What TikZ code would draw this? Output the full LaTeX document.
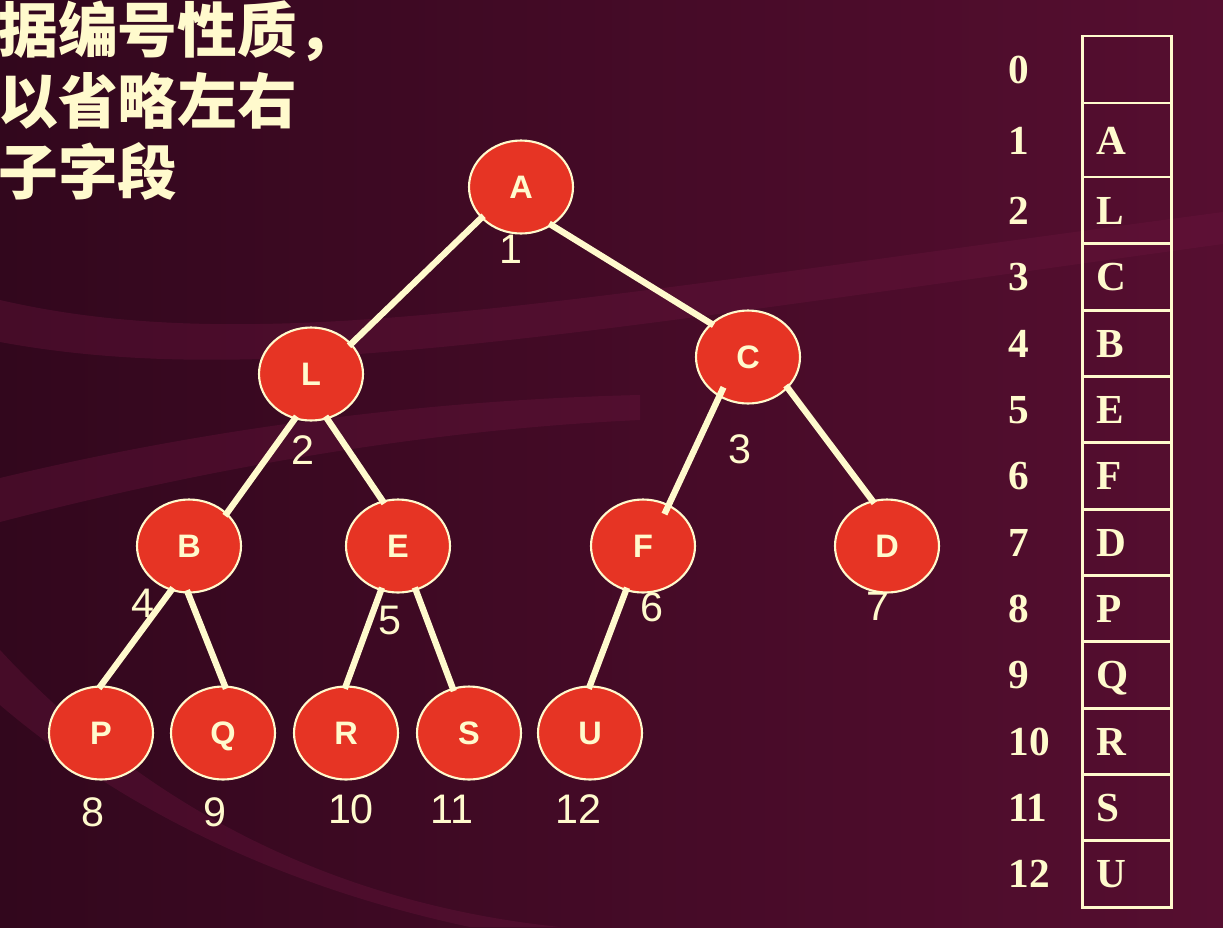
\documentclass[tikz,border=0pt]{standalone}
\usepackage{fontspec}
\setmainfont{Liberation Serif}
\setsansfont{Liberation Sans}
\newfontfamily\cjkFont{Noto Sans CJK SC}
\usepackage{tikz}
\usetikzlibrary{positioning, shapes.geometric}
\tikzstyle{slide} = [x = .02cm, y = -.02cm]
\definecolor{bgLeft}{RGB}{50,7,29}
\definecolor{bgRight}{RGB}{86,14,48}
\definecolor{bandColor}{RGB}{108,22,63}
\definecolor{nodeRed}{RGB}{230,52,36}
\definecolor{creamColor}{RGB}{255,250,205}
\tikzstyle{bandStyle} = [fill=bandColor, opacity=0.35]
\tikzstyle{treeNodeStyle} = [ellipse, draw=creamColor, line width=1.2pt, fill=nodeRed, minimum width=2.08cm, minimum height=1.86cm, inner sep=0pt, text height=13.2pt, text depth=0pt, text=creamColor, font=\sffamily\bfseries\fontsize{18.5}{18.5}\selectfont]
\tikzstyle{treeEdge} = [draw=creamColor, line width=3.6pt]
\tikzstyle{numberStyle} = [text=creamColor, inner sep=0pt, font=\sffamily\fontsize{23.5}{23.5}\selectfont]
\tikzstyle{tableLine} = [draw=creamColor, line width=1.7pt]
\tikzstyle{tableText} = [text=creamColor, inner sep=0pt, anchor=base west, font=\rmfamily\bfseries\fontsize{23.5}{23.5}\selectfont]
\tikzstyle{titleText} = [text=creamColor, inner sep=0pt, anchor=base west, font=\cjkFont\bfseries\fontsize{34}{34}\selectfont]
\newcommand{\treeNode}[3]{\node [treeNodeStyle] (#1) at (#2,#3) {#1};}
\newcommand{\numberLabel}[3]{\node [numberStyle] (number#1) at (#2,#3) {#1};}
\newcommand{\tableRow}[4]{
  \pgfmathsetmacro{\rowBase}{(#2 + #3) / 2 + 14}
  \draw [tableLine] (1082,#3) -- (1171,#3);
  \node [tableText] (index#1) at (1008,\rowBase) {#1};
  \node [tableText] (entry#1) at (1096,\rowBase) {#4};
}
\begin{document}
\begin{tikzpicture}[slide]
  \useasboundingbox (0,0) rectangle (1223,927);
  \shade [left color=bgLeft, right color=bgRight] (0,0) rectangle (1223,927);
  % background swooshes
  \fill [bandStyle] (0,300) .. controls (260,360) and (560,300) .. (1223,212)
    -- (1223,244) .. controls (560,335) and (260,390) .. (0,342) -- cycle;
  \fill [bandStyle] (0,478) .. controls (200,430) and (420,400) .. (640,395)
    -- (640,420) .. controls (420,430) and (200,470) .. (0,522) -- cycle;
  \fill [bandStyle] (0,650) .. controls (120,780) and (300,900) .. (560,927)
    -- (470,927) .. controls (250,880) and (100,790) .. (0,705) -- cycle;

  % title
  \node [titleText] (titleOne) at (-2,52) {据编号性质，};
  \node [titleText] (titleTwo) at (-2,123) {以省略左右};
  \node [titleText] (titleThree) at (-2,194) {子字段};

  % numbers under the nodes
  \numberLabel{1}{511}{249}
  \numberLabel{2}{303}{450}
  \numberLabel{3}{740}{449}
  \numberLabel{4}{143}{603}
  \numberLabel{5}{390}{620}
  \numberLabel{6}{652}{607}
  \numberLabel{7}{878}{606}
  \numberLabel{8}{93}{812}
  \numberLabel{9}{215}{812}
  \numberLabel{10}{351}{809}
  \numberLabel{11}{452}{809}
  \numberLabel{12}{578}{809}

  % tree
  \treeNode{A}{521}{187}
  \treeNode{L}{311}{374}
  \treeNode{C}{748}{357}
  \treeNode{B}{189}{546}
  \treeNode{E}{398}{546}
  \treeNode{F}{643}{546}
  \treeNode{D}{887}{546}
  \treeNode{P}{101}{733}
  \treeNode{Q}{223}{733}
  \treeNode{R}{346}{733}
  \treeNode{S}{469}{733}
  \treeNode{U}{590}{733}
  \foreach \parent/\startAngle/\child/\endAngle/\overlap in
      {A/218/L/37/2, A/309/C/138/2, L/250/B/41/2, L/290/E/109/2,
       C/234/F/58/6, C/322/D/108/2, B/248/P/90/2, B/269/Q/88/2,
       E/249/R/90/2, E/292/S/110/2, F/249/U/90/2}
    \draw [treeEdge, shorten <=-\overlap pt, shorten >=-\overlap pt]
      (\parent.\startAngle) -- (\child.\endAngle);

  % table
  \draw [tableLine] (1082,36) rectangle (1171,907);
  \tableRow{0}{36}{103}{}
  \tableRow{1}{103}{177}{A}
  \tableRow{2}{177}{243}{L}
  \tableRow{3}{243}{310}{C}
  \tableRow{4}{310}{376}{B}
  \tableRow{5}{376}{442}{E}
  \tableRow{6}{442}{509}{F}
  \tableRow{7}{509}{575}{D}
  \tableRow{8}{575}{641}{P}
  \tableRow{9}{641}{708}{Q}
  \tableRow{10}{708}{774}{R}
  \tableRow{11}{774}{840}{S}
  \tableRow{12}{840}{907}{U}
\end{tikzpicture}
\end{document}
